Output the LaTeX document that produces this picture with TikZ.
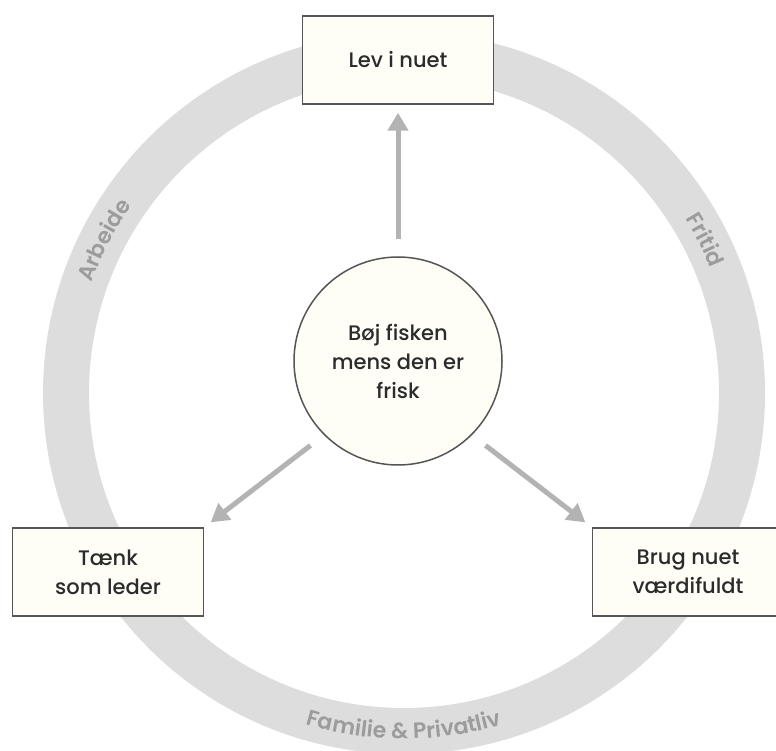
\documentclass[tikz,border=0pt]{standalone}
\usepackage{fontspec}
\setmainfont{Poppins}[UprightFont=* Medium, BoldFont=* SemiBold]
\usetikzlibrary{arrows.meta,decorations.text}
\definecolor{ringgray}{HTML}{DDDDDD}
\definecolor{pilgray}{HTML}{B3B3B3}
\definecolor{tekstgray}{HTML}{9C9C9C}
\definecolor{boksfill}{HTML}{FEFEF7}
\definecolor{kant}{HTML}{555555}
\definecolor{skrift}{HTML}{2B2B2B}
\tikzset{
  boks/.style={draw=kant, line width=1.5pt, fill=boksfill, minimum width=191pt,
    minimum height=88pt, align=center, text=skrift, font=\fontsize{21}{29}\selectfont},
  midte/.style={boks, circle, minimum size=208pt, inner sep=0pt},
  pil/.style={-{Triangle[length=18pt,width=20pt]}, line width=5pt, draw=pilgray,
    shorten <=17pt, shorten >=8pt},
  ringtekst/.style={decorate, decoration={text along path, text align=center,
    text color=tekstgray}}
}
\begin{document}
\begin{tikzpicture}[x=1pt, y=1pt]
\useasboundingbox (0,0) rectangle (776,750);
\clip (0,0) rectangle (776,750);

% Ringen
\coordinate (hub) at (404,357);
\draw[ringgray, line width=46pt] (hub) circle[radius=338];

% Tekst langs ringen
\path[ringtekst, decoration={text={|\fontsize{22}{22}\selectfont\bfseries|Arbeide}}]
  (hub) ++(180:331) arc[start angle=180, end angle=126, radius=331];
\path[ringtekst, decoration={text={|\fontsize{22}{22}\selectfont\bfseries|Fritid}}]
  (hub) ++(54:331) arc[start angle=54, end angle=0, radius=331];
\path[ringtekst, decoration={text={|\fontsize{22}{22}\selectfont\bfseries|Familie {\&} Privatliv}}]
  (hub) ++(230:346) arc[start angle=230, end angle=310, radius=346];

% Kasser og cirkel
\node[midte] (ctr) at (398,389) {Bøj fisken\\mens den er\\frisk};
\node[boks] (lev) at (398,690) {Lev i nuet};
\node[boks] (tenk) at (108,178) {Tænk\\som leder};
\node[boks] (brug) at (688,178) {Brug nuet\\værdifuldt};

% Pile
\foreach \fra/\til in {ctr.north/lev.south, ctr.225/tenk.north east, ctr.-45/brug.north west} {
  \draw[pil] (\fra) -- (\til);
}

\end{tikzpicture}
\end{document}
